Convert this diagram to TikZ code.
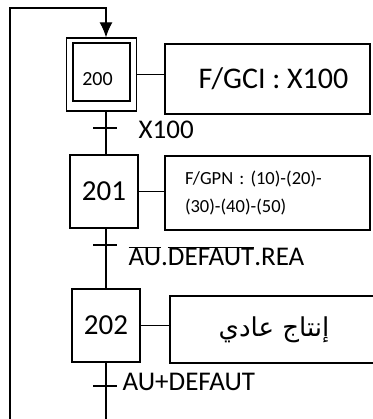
\documentclass[tikz,border=0pt]{standalone}
\usepackage{fontspec}
\setmainfont{Carlito}
\newfontfamily\arabicfont[Script=Arabic]{DejaVu Sans}
\TeXXeTstate=1
\usetikzlibrary{arrows.meta}
\tikzset{
    etape/.style={draw, line width=1.3pt, minimum width=68pt, minimum height=73pt, inner sep=0pt},
    action/.style={draw, line width=1.3pt, minimum width=205pt, inner sep=0pt},
    recep/.style={font=\fontsize{27}{28}\selectfont, anchor=west, inner sep=0pt}
}
\begin{document}
\begin{tikzpicture}[x=1pt, y=-1pt, >={Latex[length=15pt,width=13pt]}, line width=1.3pt]
\useasboundingbox (0,0) rectangle (372,419);
% etapes
\node[etape, minimum width=70pt] (e200) at (101.5,74.5) {};
\node[draw, minimum width=57pt, minimum height=58pt] (e200i) at (101.5,72) {};
\node[font=\fontsize{20}{20}\selectfont] (n200) at (97.5,79) {200};
\node[etape, font=\fontsize{29}{30}\selectfont] (e201) at (104,191.5) {201};
\node[etape, font=\fontsize{29}{30}\selectfont] (e202) at (106,325.5) {202};
% actions
\node[action, minimum height=70pt, font=\fontsize{30}{30}\selectfont] (a200) at (267.5,79) {\hspace{12pt}F/GCI : X100};
\node[action, minimum height=74pt, font=\fontsize{18.5}{28}\selectfont, align=left, text width=165pt] (a201) at (267.5,193)
    {F/GPN : (10)-(20)-\\(30)-(40)-(50)};
\node[action, minimum height=67pt, minimum width=212pt, font=\fontsize{26}{28}\selectfont] (a202) at (276,329.5)
    {\hspace{-4pt}{\arabicfont\beginR إنتاج عادي\endR}\hspace{4pt}};
\foreach \e/\a in {e200/a200,e201/a201,e202/a202}
{
    \draw (\e.east) -- (\a.west |- \e.east);
}
% liaisons
\coordinate (haut) at (106,8);
\coordinate (gauche) at (10,419);
\coordinate (bas) at (106,419);
\coordinate (t200) at (106,128);
\coordinate (t201) at (106,245);
\coordinate (t202) at (106,386);
\draw[->] (gauche) |- (haut) -- (haut |- e200.north);
\draw (haut |- e200.south) -- (haut |- e201.north);
\draw (haut |- e201.south) -- (haut |- e202.north);
\draw (haut |- e202.south) -- (bas);
% receptivites
\foreach \t in {t200,t201,t202}
{
    \draw ([xshift=-13pt]\t) -- ([xshift=11pt]\t);
}
\node[recep] (r200) at (138,130) {X100};
\node[recep] (r201) at (128,256) {$\overline{\mbox{AU}}$.$\overline{\mbox{DEFAUT}}$.REA};
\node[recep] (r202) at (122,382) {AU+DEFAUT};
\end{tikzpicture}
\end{document}
